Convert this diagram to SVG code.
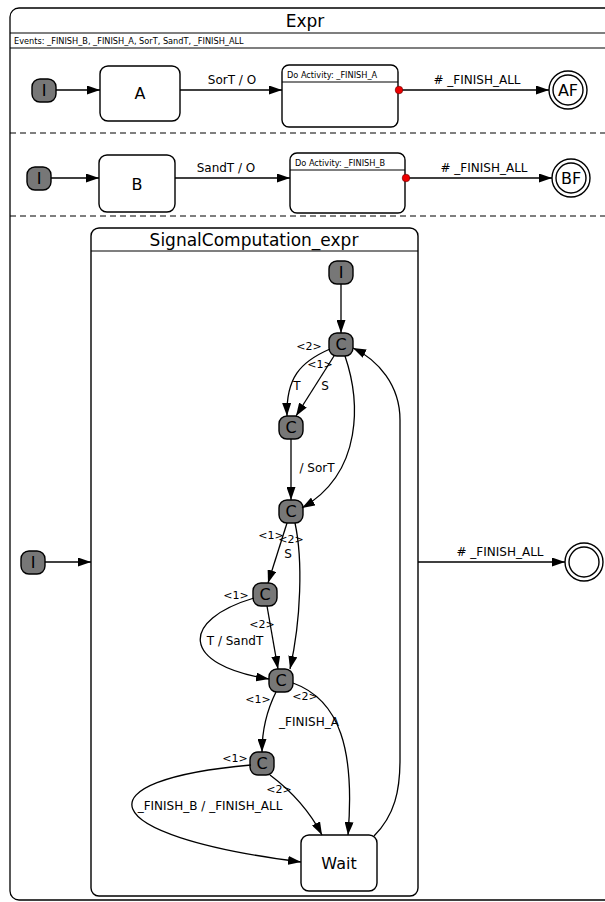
<svg xmlns="http://www.w3.org/2000/svg" width="605" height="902" viewBox="0 0 605 902">
  <defs>
    <marker id="arrow" markerUnits="userSpaceOnUse" markerWidth="14" markerHeight="9" refX="13" refY="4.5" orient="auto">
      <path d="M0,0 L13,4.5 L0,9 z" fill="#000"/>
    </marker>
    <style>
      text { font-family: "DejaVu Sans", "Liberation Sans", sans-serif; fill: #000; }
      .frame { fill: #fff; stroke: #000; stroke-width: 1.3; }
      .sep { stroke: #000; stroke-width: 1.2; }
      .dash { stroke: #000; stroke-width: 1.2; stroke-dasharray: 6 4; }
      .pseudo { fill: #777; stroke: #000; stroke-width: 1.4; }
      .state { fill: #fff; stroke: #000; stroke-width: 1.4; }
      .edge { fill: none; stroke: #000; stroke-width: 1.3; marker-end: url(#arrow); }
      .title { font-size: 17px; text-anchor: middle; }
      .name { font-size: 16px; text-anchor: middle; }
      .pname { font-size: 16px; text-anchor: middle; }
      .lbl { font-size: 12px; text-anchor: middle; }
      .prio { font-size: 11px; text-anchor: middle; }
      .tiny { font-size: 8.2px; }
    </style>
  </defs>

  <!-- top-level state Expr -->
  <g id="Expr">
    <rect class="frame" x="10" y="8" width="620" height="892" rx="9"/>
    <text class="title" x="305" y="27">Expr</text>
    <line class="sep" x1="10" y1="33" x2="605" y2="33"/>
    <text class="tiny" x="14" y="44">Events: _FINISH_B, _FINISH_A, SorT, SandT, _FINISH_ALL</text>
    <line class="sep" x1="10" y1="48" x2="605" y2="48"/>
    <line class="dash" x1="10" y1="133" x2="605" y2="133"/>
    <line class="dash" x1="10" y1="216" x2="605" y2="216"/>
  </g>

  <!-- region 1 -->
  <g id="I_A">
    <rect class="pseudo" x="32" y="79" width="24" height="23" rx="8"/>
    <text class="pname" x="44" y="96">I</text>
  </g>
  <g id="A">
    <rect class="state" x="100" y="66" width="80" height="55" rx="8"/>
    <text class="name" x="140" y="99">A</text>
  </g>
  <g id="DoA">
    <rect class="state" x="282" y="65" width="116" height="62" rx="7"/>
    <line class="sep" x1="282" y1="82" x2="398" y2="82"/>
    <text class="tiny" x="287" y="78">Do Activity: _FINISH_A</text>
  </g>
  <g id="AF">
    <circle class="state" cx="568" cy="90" r="19"/>
    <circle class="state" cx="568" cy="90" r="15"/>
    <text class="name" x="568" y="96">AF</text>
  </g>

  <!-- region 2 -->
  <g id="I_B">
    <rect class="pseudo" x="27" y="167" width="24" height="23" rx="8"/>
    <text class="pname" x="39" y="184">I</text>
  </g>
  <g id="B">
    <rect class="state" x="99" y="155" width="76" height="57" rx="8"/>
    <text class="name" x="137" y="190">B</text>
  </g>
  <g id="DoB">
    <rect class="state" x="290" y="153" width="115" height="60" rx="7"/>
    <line class="sep" x1="290" y1="170" x2="405" y2="170"/>
    <text class="tiny" x="295" y="166">Do Activity: _FINISH_B</text>
  </g>
  <g id="BF">
    <circle class="state" cx="571" cy="178" r="19"/>
    <circle class="state" cx="571" cy="178" r="15"/>
    <text class="name" x="571" y="184">BF</text>
  </g>

  <!-- region 3 -->
  <g id="I_S">
    <rect class="pseudo" x="21" y="551" width="24" height="23" rx="8"/>
    <text class="pname" x="33" y="568">I</text>
  </g>
  <g id="SignalComputation_expr">
    <rect class="state" x="91" y="228" width="327" height="668" rx="8"/>
    <line class="sep" x1="91" y1="251" x2="418" y2="251"/>
    <text class="title" x="254" y="246">SignalComputation_expr</text>
  </g>
  <g id="Final">
    <circle class="state" cx="584" cy="562" r="19"/>
    <circle class="state" cx="584" cy="562" r="15"/>
  </g>

  <!-- inner states -->
  <g id="I_in">
    <rect class="pseudo" x="329" y="261" width="24" height="23" rx="8"/>
    <text class="pname" x="341" y="278">I</text>
  </g>
  <g id="C1">
    <rect class="pseudo" x="329" y="333" width="24" height="23" rx="8"/>
    <text class="pname" x="341" y="350">C</text>
  </g>
  <g id="C2">
    <rect class="pseudo" x="279" y="416" width="24" height="23" rx="8"/>
    <text class="pname" x="291" y="433">C</text>
  </g>
  <g id="C3">
    <rect class="pseudo" x="279" y="500" width="24" height="23" rx="8"/>
    <text class="pname" x="291" y="517">C</text>
  </g>
  <g id="C4">
    <rect class="pseudo" x="253" y="583" width="24" height="23" rx="8"/>
    <text class="pname" x="265" y="600">C</text>
  </g>
  <g id="C5">
    <rect class="pseudo" x="269" y="669" width="24" height="23" rx="8"/>
    <text class="pname" x="281" y="686">C</text>
  </g>
  <g id="C6">
    <rect class="pseudo" x="250" y="752" width="24" height="23" rx="8"/>
    <text class="pname" x="262" y="769">C</text>
  </g>
  <g id="Wait">
    <rect class="state" x="301" y="835" width="76" height="56" rx="8"/>
    <text class="name" x="339" y="869">Wait</text>
  </g>

  <!-- transitions -->
  <g id="connectors">
    <line class="edge" x1="56" y1="90" x2="100" y2="90"/>
    <line class="edge" x1="180" y1="90" x2="282" y2="90"/>
    <line class="edge" x1="402" y1="90" x2="549" y2="90"/>
    <circle cx="399" cy="90" r="3.8" fill="#e00" stroke="#600" stroke-width="0.6"/>

    <line class="edge" x1="51" y1="178" x2="99" y2="178"/>
    <line class="edge" x1="175" y1="178" x2="290" y2="178"/>
    <line class="edge" x1="409" y1="178" x2="552" y2="178"/>
    <circle cx="406" cy="178" r="3.8" fill="#e00" stroke="#600" stroke-width="0.6"/>

    <line class="edge" x1="45" y1="562" x2="91" y2="562"/>
    <line class="edge" x1="418" y1="562" x2="565" y2="562"/>

    <line class="edge" x1="341" y1="284" x2="341" y2="333"/>
    <line class="edge" x1="334" y1="356" x2="296" y2="416"/>
    <path class="edge" d="M330,349 C300,362 286,378 287,416"/>
    <path class="edge" d="M345,356 C360,400 364,472 302,508"/>
    <path class="edge" d="M374,836 C395,815 400,790 400,760 L400,420 C400,385 378,360 353,348"/>
    <line class="edge" x1="291" y1="439" x2="291" y2="500"/>
    <line class="edge" x1="287" y1="523" x2="268" y2="583"/>
    <path class="edge" d="M295,523 C303,560 301,620 290,669"/>
    <line class="edge" x1="267" y1="606" x2="278" y2="669"/>
    <path class="edge" d="M254,598 C180,620 180,665 269,679"/>
    <path class="edge" d="M276,692 C266,712 262,730 262,752"/>
    <path class="edge" d="M293,683 C340,700 355,750 348,835"/>
    <path class="edge" d="M270,775 C290,790 308,808 322,835"/>
    <path class="edge" d="M251,765 C80,780 90,835 301,862"/>

    <text class="lbl" x="232" y="84">SorT / O</text>
    <text class="lbl" x="477" y="84">#  _FINISH_ALL</text>
    <text class="lbl" x="226" y="172">SandT / O</text>
    <text class="lbl" x="484" y="172">#  _FINISH_ALL</text>
    <text class="lbl" x="500" y="556">#  _FINISH_ALL</text>

    <text class="prio" x="309" y="350">&lt;2&gt;</text>
    <text class="prio" x="320" y="368">&lt;1&gt;</text>
    <text class="lbl" x="297" y="390">T</text>
    <text class="lbl" x="325" y="390">S</text>
    <text class="lbl" x="317" y="472">/ SorT</text>
    <text class="prio" x="271" y="539">&lt;1&gt;</text>
    <text class="prio" x="291" y="543">&lt;2&gt;</text>
    <text class="lbl" x="288" y="558">S</text>
    <text class="prio" x="236" y="599">&lt;1&gt;</text>
    <text class="prio" x="262" y="628">&lt;2&gt;</text>
    <text class="lbl" x="235" y="645">T / SandT</text>
    <text class="prio" x="258" y="703">&lt;1&gt;</text>
    <text class="prio" x="305" y="700">&lt;2&gt;</text>
    <text class="lbl" x="309" y="726">_FINISH_A</text>
    <text class="prio" x="235" y="762">&lt;1&gt;</text>
    <text class="prio" x="279" y="793">&lt;2&gt;</text>
    <text class="lbl" x="210" y="810">_FINISH_B / _FINISH_ALL</text>
  </g>
</svg>
